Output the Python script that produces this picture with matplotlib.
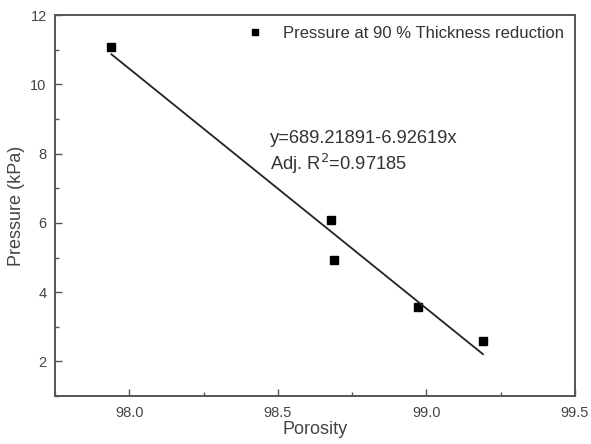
import numpy as np
import matplotlib
matplotlib.use("Agg")
import matplotlib.pyplot as plt
from matplotlib.ticker import MultipleLocator, FormatStrFormatter

# data
porosity = [97.94, 98.68, 98.69, 98.97, 99.19]
pressure = [11.07, 6.08, 4.92, 3.56, 2.58]
intercept = 689.21891
slope = -6.92619
adj_r2 = 0.97185

plt.rcParams['font.family'] = ['Liberation Sans', 'DejaVu Sans']
txt_col = '#444444'

fig = plt.figure(figsize=(5.91, 4.44), dpi=100)
ax = fig.add_axes([0.093, 0.108, 0.880, 0.858])

ax.plot(porosity, pressure, 's', color='black', markersize=5.5,
        label='Pressure at 90 % Thickness reduction')
xfit = np.array([min(porosity), max(porosity)])
ax.plot(xfit, intercept + slope * xfit, '-', color='#222222', linewidth=1.3)

ax.set_xlim(97.75, 99.5)
ax.set_ylim(1, 12)
ax.xaxis.set_major_locator(MultipleLocator(0.5))
ax.xaxis.set_minor_locator(MultipleLocator(0.25))
ax.yaxis.set_major_locator(MultipleLocator(2))
ax.yaxis.set_minor_locator(MultipleLocator(1))
ax.xaxis.set_major_formatter(FormatStrFormatter('%.1f'))

ax.tick_params(which='major', direction='in', length=5, width=1.0,
               colors='#555555', labelcolor=txt_col, labelsize=10.5)
ax.tick_params(which='minor', direction='in', length=3, width=1.0, colors='#555555')
ax.tick_params(axis='x', pad=7)
ax.tick_params(axis='y', pad=6)
for s in ax.spines.values():
    s.set_color('#555555')
    s.set_linewidth(1.4)

ax.set_xlabel('Porosity', fontsize=13, color=txt_col, labelpad=1)
ax.set_ylabel('Pressure (kPa)', fontsize=13, color=txt_col, labelpad=4)

leg = ax.legend(loc='upper right', frameon=False, fontsize=12,
                handletextpad=0.7, borderaxespad=0.25, markerscale=0.75)
for t in leg.get_texts():
    t.set_color('#333333')

ax.text(0.413, 0.677, f'y={intercept}{slope}x', transform=ax.transAxes,
        fontsize=13.2, color='#333333', va='center')
ax.text(0.413, 0.608, f'Adj. R$^2$={adj_r2}', transform=ax.transAxes,
        fontsize=13.2, color='#333333', va='center')

fig.savefig('out.png', dpi=100)
